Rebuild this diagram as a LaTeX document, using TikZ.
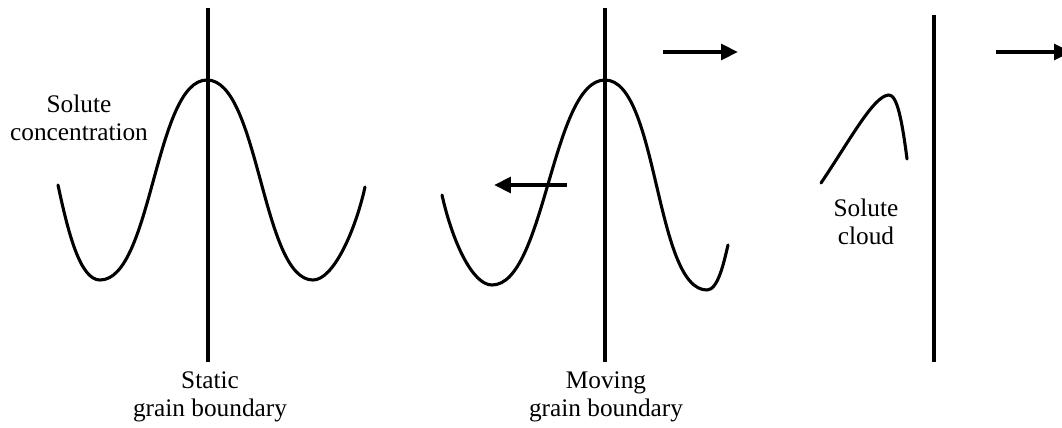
\documentclass[tikz,border=0pt]{standalone}
\usepackage{fontspec}
\setmainfont{Liberation Serif}
\usetikzlibrary{arrows.meta, positioning}

\begin{document}
\begin{tikzpicture}[x=0.025cm, y=-0.025cm, font=\fontsize{18}{19.5}\selectfont,
    boundary/.style={line width=2.2pt},
    profile/.style={line width=2.2pt, line cap=round, line join=round},
    motion/.style={line width=3pt, -{Triangle[length=12pt, width=11pt]}},
    caption/.style={align=center, inner sep=0pt}]
  \useasboundingbox (0,0) rectangle (1062,427);

  \coordinate (static top) at (208,8);
  \coordinate (static bottom) at (208,362);
  \coordinate (moving top) at (605,8);
  \coordinate (moving bottom) at (605,362);
  \coordinate (cloud top) at (934,15);
  \coordinate (cloud bottom) at (934,362);
  \draw[boundary] (static top) -- (static bottom);
  \draw[boundary] (moving top) -- (moving bottom);
  \draw[boundary] (cloud top) -- (cloud bottom);

  \draw[profile] (58,185) .. controls (68,232) and (80,280) .. (100,280)
    .. controls (152,280) and (155,80) .. (207,80)
    .. controls (259,80) and (262,280) .. (313,280)
    .. controls (333,280) and (355,232) .. (365,187);
  \draw[profile] (442,195) .. controls (452,240) and (472,285) .. (492,285)
    .. controls (545,285) and (552,80) .. (605,80)
    .. controls (658,80) and (655,290) .. (707,290)
    .. controls (718,290) and (724,262) .. (728,245);
  \draw[profile] (821,183) .. controls (850,140) and (874,95) .. (889,95)
    .. controls (897,95) and (902,120) .. (907,159);

  \coordinate (back start) at (567,185);
  \coordinate (back end) at (494,185);
  \coordinate (ahead start) at (663,52);
  \coordinate (ahead end) at (738,52);
  \coordinate (cloud start) at (996,52);
  \coordinate (cloud end) at (1071,52);
  \draw[motion] (back start) -- (back end);
  \draw[motion] (ahead start) -- (ahead end);
  \draw[motion] (cloud start) -- (cloud end);

  \node[caption] (concentration) at (79,118) {Solute\\concentration};
  \node[caption] (cloud) at (866,222) {Solute\\cloud};
  \node[caption] (static) at (210,397) {Static\\grain boundary};
  \node[caption] (moving) at (606,397) {Moving\\grain boundary};
\end{tikzpicture}
\end{document}
